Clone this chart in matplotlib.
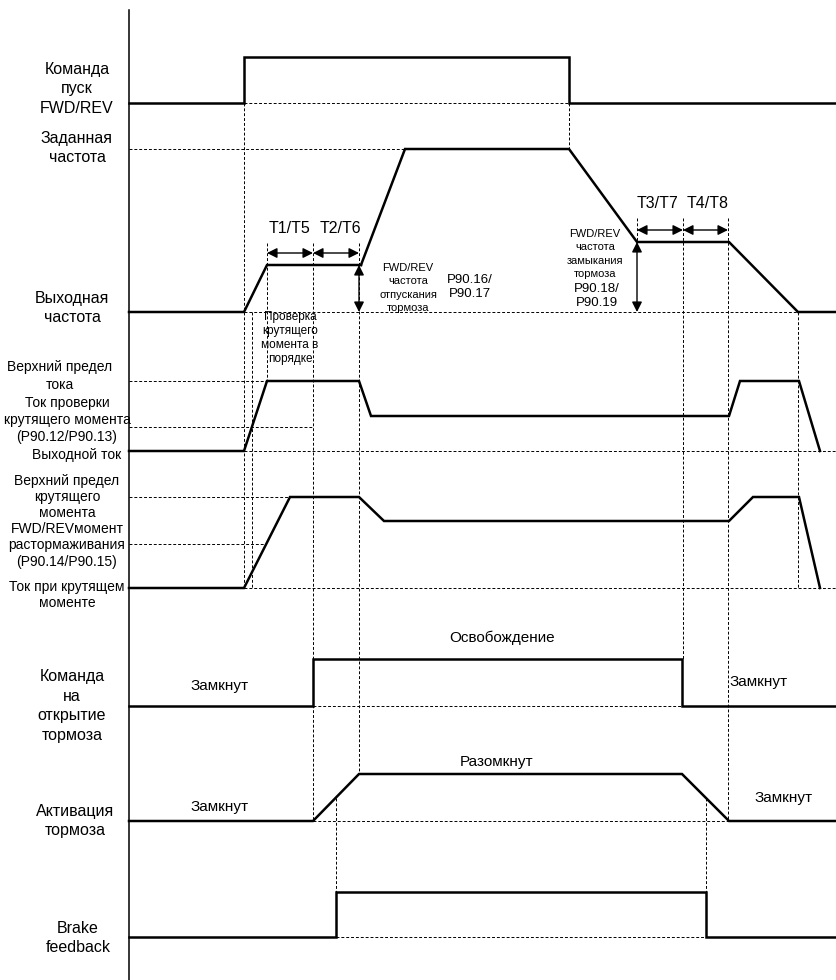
import numpy as np
from matplotlib import pyplot as plt

plt.rcParams['font.family'] = ['Liberation Sans', 'DejaVu Sans']

# Time axis is in picture units (left edge of the diagram = 129).
# Each signal: breakpoint times and levels.
run_t = [129, 244, 244, 569, 569, 837]
run_v = [103, 103, 57, 57, 103, 103]

setf_t = [361, 405, 569, 637, 729, 798, 837]
setf_v = [265, 149, 149, 242, 242, 312, 312]

outf_t = [129, 244, 267, 361]
outf_v = [312, 312, 265, 265]

cur_t = [129, 244, 267, 359, 371, 729, 740, 799, 820]
cur_v = [451, 451, 381, 381, 416, 416, 381, 381, 451]

trq_t = [129, 244, 290, 359, 384, 729, 753, 799, 820]
trq_v = [588, 588, 497, 497, 521, 521, 497, 497, 588]

cmd_t = [129, 313, 313, 682, 682, 837]
cmd_v = [706, 706, 659, 659, 706, 706]

act_t = [129, 313, 359, 682, 729, 837]
act_v = [821, 821, 774, 774, 821, 821]

fb_t = [129, 336, 336, 706, 706, 837]
fb_v = [937, 937, 892, 892, 937, 937]

# reference levels (dashed): level, start, end
ref_levels = [(103, 244, 569), (149, 129, 405), (312, 244, 798),
              (381, 129, 267), (427, 129, 313), (451, 244, 837),
              (497, 129, 290), (544, 129, 266), (588, 244, 837),
              (706, 313, 682), (821, 313, 729), (937, 336, 706)]

# moment when current reaches torque check level
t_check = np.interp(427, [381, 451], [267, 244])
# brake feedback edges, seen on the activation ramps
t_fb_on = 336
t_fb_off = 706
y_fb_on = np.interp(t_fb_on, [313, 359], [821, 774])
y_fb_off = np.interp(t_fb_off, [682, 729], [774, 821])

ref_times = [(244, 103, 588), (t_check, 312, 588), (267, 243, 381),
             (313, 243, 821), (359, 243, 774), (569, 103, 149),
             (637, 218, 242), (683, 218, 659), (728, 218, 821),
             (798, 312, 588), (t_fb_on, y_fb_on, 892),
             (t_fb_off, y_fb_off, 892)]

fig = plt.figure(figsize=(8.37, 9.8), dpi=100)
ax = fig.add_axes([0, 0, 1, 1])
ax.set_xlim(0, 837)
ax.set_ylim(980, 0)
ax.axis('off')

# time axis
ax.plot([129, 129], [10, 980], color='black', lw=1.1)

dash = dict(color='black', lw=0.7, linestyle=(0, (3, 2)))
for y, x0, x1 in ref_levels:
    ax.plot([x0, x1], [y, y], **dash)
for x, y0, y1 in ref_times:
    ax.plot([x, x], [y0, y1], **dash)

for t, v in [(run_t, run_v), (setf_t, setf_v), (outf_t, outf_v),
             (cur_t, cur_v), (trq_t, trq_v), (cmd_t, cmd_v),
             (act_t, act_v), (fb_t, fb_v)]:
    ax.plot(t, v, color='black', lw=1.8, solid_joinstyle='miter')

arrow = dict(arrowstyle='<|-|>', color='black', lw=1.0,
             mutation_scale=15, shrinkA=0, shrinkB=0)
for x0, x1, y in [(267, 313, 253), (313, 359, 253),
                  (637, 683, 230), (683, 728, 230)]:
    ax.annotate('', xy=(x1, y), xytext=(x0, y), arrowprops=arrow)
for x, y0, y1 in [(359, 265, 312), (637, 242, 312)]:
    ax.annotate('', xy=(x, y1), xytext=(x, y0), arrowprops=arrow)

# left labels
big = 11.5
ax.text(77, 89, 'Команда\nпуск\nFWD/REV', ha='center', va='center', fontsize=big, linespacing=1.38)
ax.text(77, 148, 'Заданная\nчастота', ha='center', va='center', fontsize=big, linespacing=1.4)
ax.text(72, 308, 'Выходная\nчастота', ha='center', va='center', fontsize=big, linespacing=1.4)
ax.text(60, 376, 'Верхний предел\nтока', ha='center', va='center', fontsize=10, linespacing=1.35)
ax.text(67, 420, 'Ток проверки\nкрутящего момента\n(P90.12/P90.13)', ha='center', va='center',
        fontsize=10, linespacing=1.3)
ax.text(77, 455, 'Выходной ток', ha='center', va='center', fontsize=10)
ax.text(67, 521, 'Верхний предел\nкрутящего\nмомента\nFWD/REVмомент\nрастормаживания\n(P90.14/P90.15)',
        ha='center', va='center', fontsize=10, linespacing=1.2)
ax.text(67, 595, 'Ток при крутящем\nмоменте', ha='center', va='center', fontsize=10, linespacing=1.15)
ax.text(72, 706, 'Команда\nна\nоткрытие\nтормоза', ha='center', va='center', fontsize=big, linespacing=1.4)
ax.text(75, 821, 'Активация\nтормоза', ha='center', va='center', fontsize=big, linespacing=1.4)
ax.text(78, 938, 'Brake\nfeedback', ha='center', va='center', fontsize=big, linespacing=1.4)

# interval names
for s, x, y in [('T1/T5', 290, 228), ('T2/T6', 340, 228),
                ('T3/T7', 658, 203), ('T4/T8', 708, 203)]:
    ax.text(x, y, s, ha='center', va='center', fontsize=big)

ax.text(408, 288, 'FWD/REV\nчастота\nотпускания\nтормоза', ha='center', va='center',
        fontsize=8, linespacing=1.45)
ax.text(470, 287, 'P90.16/\nP90.17', ha='center', va='center', fontsize=9.5, linespacing=1.3)
ax.text(595, 254, 'FWD/REV\nчастота\nзамыкания\nтормоза', ha='center', va='center',
        fontsize=8, linespacing=1.45)
ax.text(597, 296, 'P90.18/\nP90.19', ha='center', va='center', fontsize=9.5, linespacing=1.3)
ax.text(290, 338, 'Проверка\nкрутящего\nмомента в\nпорядке', ha='center', va='center',
        fontsize=8.5, linespacing=1.25)

ax.text(502, 638, 'Освобождение', ha='center', va='center', fontsize=11)
ax.text(220, 686, 'Замкнут', ha='center', va='center', fontsize=11)
ax.text(759, 682, 'Замкнут', ha='center', va='center', fontsize=11)
ax.text(497, 762, 'Разомкнут', ha='center', va='center', fontsize=11)
ax.text(220, 807, 'Замкнут', ha='center', va='center', fontsize=11)
ax.text(784, 798, 'Замкнут', ha='center', va='center', fontsize=11)

fig.savefig('out.png', dpi=100)
